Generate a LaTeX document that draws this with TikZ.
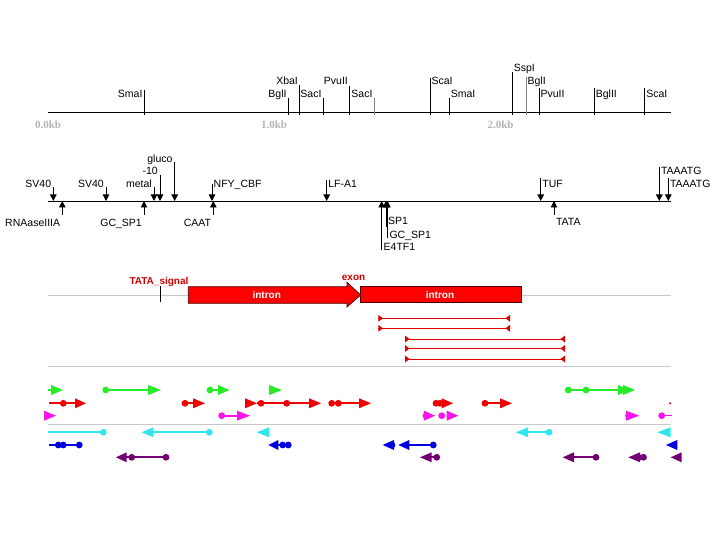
\documentclass[tikz,border=0pt]{standalone}
\usepackage{fontspec}
\setmainfont{Liberation Sans}
\newfontfamily\gbserif{Liberation Serif}
\usetikzlibrary{arrows.meta}
\definecolor{gG}{RGB}{40,235,40}
\definecolor{gR}{RGB}{240,0,0}
\definecolor{gM}{RGB}{250,20,235}
\definecolor{gC}{RGB}{50,230,240}
\definecolor{gB}{RGB}{0,0,220}
\definecolor{gP}{RGB}{115,0,115}
\definecolor{featred}{RGB}{220,0,0}
\definecolor{labred}{RGB}{205,0,0}
\definecolor{boxedge}{RGB}{80,0,0}
\definecolor{trackgray}{RGB}{200,200,200}
\definecolor{scalegray}{RGB}{180,180,180}
\newcommand\gbR[4]{\fill[#1] (#2,#4-5) -- (#3,#4) -- (#2,#4+5) -- cycle;}
\newcommand\gbL[4]{\fill[#1] (#3,#4-5) -- (#2,#4) -- (#3,#4+5) -- cycle;}
\newcommand\gbD[3]{\fill[#1] (#2,#3) circle[radius=3.4pt];}
\newcommand\gbS[4]{\draw[#1,line width=2.3pt] (#2,#4) -- (#3,#4);}
\newcommand\gbFeat[3]{%
  \draw[featred,line width=0.9pt] (#1,#3) -- (#2,#3);
  \fill[featred] (#1,#3-3.5) -- (#1+4.5,#3) -- (#1,#3+3.5) -- cycle;
  \fill[featred] (#2,#3-3.5) -- (#2-4.5,#3) -- (#2,#3+3.5) -- cycle;}
\tikzset{
  lab/.style={font=\fontsize{10.5}{12}\selectfont,inner sep=0pt,text=black},
  scl/.style={font=\gbserif\bfseries\fontsize{11}{12}\selectfont,inner sep=0pt,text=scalegray},
  axisline/.style={black,line width=0.9pt},
  trackline/.style={trackgray,line width=0.9pt},
  pointer/.style={black,line width=0.9pt,-{Triangle[length=6.5pt,width=6.5pt]}},
  redlab/.style={font=\bfseries\fontsize{10}{12}\selectfont,inner sep=0pt,text=labred},
  intronlab/.style={font=\bfseries\fontsize{10}{12}\selectfont,inner sep=0pt,text=white},
}
\begin{document}
\begin{tikzpicture}[x=1pt,y=-1pt]
\useasboundingbox (0,0) rectangle (720,540);
\fill[white] (0,0) rectangle (720,540);

% ---------- restriction map ----------
\coordinate (mapL) at (48,112);
\coordinate (mapR) at (671,112);
\draw[axisline] (mapL) -- (mapR);
\foreach \x/\t/\b/\s/\c [count=\i] in {144.3/90/98/SmaI/black, 288.3/98/98/BglI/black, 299.7/85/85/XbaI/black, 323.3/98/98/SacI/black, 349.7/86/85/PvuII/black, 374.3/98/98/SacI/gray}{
  \draw[\c,line width=1pt] (\x,\t) -- (\x,115);
  \node[lab,anchor=base east] (tl\i) at (\x-1.6,\b) {\s};
}
\foreach \x/\t/\b/\s/\c [count=\i] in {430/78/85/ScaI/black, 449.3/98/98/SmaI/black, 512.3/72/71.7/SspI/black, 526/77/85/BglI/gray, 539/88/97.5/PvuII/black, 594.3/88/97.5/BglII/black, 644.7/88/97.5/ScaI/black}{
  \draw[\c,line width=1pt] (\x,\t) -- (\x,115);
  \node[lab,anchor=base west] (tr\i) at (\x+1.4,\b) {\s};
}
\node[scl] (k0) at (48,125) {0.0kb};
\node[scl] (k1) at (274,125) {1.0kb};
\node[scl] (k2) at (500.5,125) {2.0kb};

% ---------- promoter elements ----------
\coordinate (prL) at (48,201);
\coordinate (prR) at (671,201);
\draw[axisline] (prL) -- (prR);
\foreach \x/\t/\b/\s [count=\i] in {53.3/187.5/188/SV40, 106/187.5/188/SV40, 154/187.5/188/metal, 160/175/175/-10, 174.7/162/162.5/gluco}{
  \coordinate (dl\i) at (\x,201);
  \draw[pointer] (\x,\t) -- (dl\i);
  \node[lab,anchor=base east] (dln\i) at (\x-2,\b) {\s};
}
\foreach \x/\t/\b/\s [count=\i] in {212/184/188/NFY\_CBF, 326.7/180/188/LF-A1, 540.7/178/188/TUF, 659.3/167/175/TAAATG, 668.3/178/188/TAAATG}{
  \coordinate (dr\i) at (\x,201);
  \draw[pointer] (\x,\t) -- (dr\i);
  \node[lab,anchor=base west] (drn\i) at (\x+1.5,\b) {\s};
}
\foreach \x/\t/\b/\s [count=\i] in {62.3/215/226/RNAaseIIIA, 144/215/226/GC\_SP1, 213.3/215/226/CAAT}{
  \coordinate (ul\i) at (\x,201);
  \draw[pointer] (\x,\t) -- (ul\i);
  \node[lab,anchor=base east] (uln\i) at (\x-2,\b) {\s};
}
\foreach \x/\t/\b/\s [count=\i] in {381.7/250/250.5/E4TF1, 386/227/225/SP1, 387.5/238/238/GC\_SP1, 554/215/225.5/TATA}{
  \coordinate (ur\i) at (\x,201);
  \draw[pointer] (\x,\t) -- (ur\i);
  \node[lab,anchor=base west] (urn\i) at (\x+1.8,\b) {\s};
}

% ---------- gene structure ----------
\draw[trackline] (48,295) -- (671,295);
\draw[trackline] (48,366) -- (671,366);
\draw[trackline] (48,424.3) -- (671,424.3);
\draw[black,line width=1.4pt] (160.7,285.7) -- (160.7,302.3);
\node[redlab,anchor=base west] (tatasig) at (129.3,284.5) {TATA\_signal};
\fill[red,draw=boxedge,line width=0.7pt] (188.3,286.7) -- (347,286.7) -- (347,282.3) -- (360.7,295) -- (347,307) -- (347,303.3) -- (188.3,303.3) -- cycle;
\fill[red,draw=boxedge,line width=0.7pt] (360.7,286.7) rectangle (521,302.7);
\node[intronlab] (in1) at (266.7,295) {intron};
\node[intronlab] (in2) at (440,295) {intron};
\node[redlab,anchor=base west] (exon) at (341.7,280) {exon};

\gbFeat{378.3}{510}{318.3}
\gbFeat{378.3}{510}{328.3}
\gbFeat{405}{565}{339}
\gbFeat{405}{565}{348.5}
\gbFeat{405}{565}{359}

% ---------- feature glyph rows ----------
% green
\gbS{gG}{48}{53}{390} \gbR{gG}{51}{63}{390}
\gbD{gG}{105.7}{390} \gbS{gG}{105.7}{150}{390} \gbR{gG}{148}{161}{390}
\gbD{gG}{210}{390} \gbS{gG}{210}{220}{390} \gbR{gG}{218}{229.5}{390}
\gbR{gG}{269}{282}{390}
\gbD{gG}{568.3}{390} \gbD{gG}{586}{390} \gbS{gG}{568}{620}{390} \gbR{gG}{618}{630}{390} \gbR{gG}{623}{635}{390}
% red
\gbS{gR}{49}{76}{403.3} \gbD{gR}{63.3}{403.3} \gbR{gR}{75}{86}{403.3}
\gbD{gR}{185}{403.3} \gbS{gR}{185}{194}{403.3} \gbR{gR}{193}{205}{403.3}
\gbR{gR}{245}{257}{403.3} \gbS{gR}{257}{310}{403.3} \gbD{gR}{261}{403.3} \gbD{gR}{286.7}{403.3} \gbR{gR}{309}{321}{403.3}
\gbD{gR}{331.7}{403.3} \gbD{gR}{338.3}{403.3} \gbS{gR}{332}{361}{403.3} \gbR{gR}{359}{371}{403.3}
\gbD{gR}{436}{403.3} \gbD{gR}{440}{403.3} \gbR{gR}{441.7}{453}{403.3}
\gbD{gR}{485}{403.3} \gbS{gR}{485}{501}{403.3} \gbR{gR}{500}{512}{403.3}
\fill[gR] (670,403.3) circle[radius=1.2pt];
% magenta
\gbR{gM}{44}{56}{415.7}
\gbD{gM}{221.7}{415.7} \gbS{gM}{221.7}{238}{415.7} \gbR{gM}{237}{250}{415.7}
\gbD{gM}{426}{415.7} \gbR{gM}{424}{435}{415.7} \gbD{gM}{441.7}{415.7} \gbR{gM}{446.7}{458.3}{415.7}
\gbD{gM}{628.5}{415.7} \gbR{gM}{626}{639.3}{415.7}
\gbD{gM}{661.7}{415.7} \draw[gM,line width=1.2pt] (661.7,415.7) -- (672,415.7);
% cyan
\gbS{gC}{48.3}{103.3}{432.3} \gbD{gC}{103.3}{432.3}
\gbL{gC}{141.7}{153.3}{432.3} \gbS{gC}{152}{209.3}{432.3} \gbD{gC}{209.3}{432.3}
\gbL{gC}{256.7}{269.3}{432.3} \gbD{gC}{266}{432.3}
\gbL{gC}{516}{528}{432.3} \gbS{gC}{527}{549}{432.3} \gbD{gC}{549}{432.3}
\gbL{gC}{657.3}{670.7}{432.3}
% blue
\gbS{gB}{49}{79.3}{445} \gbD{gB}{58.3}{445} \gbD{gB}{63.3}{445} \gbD{gB}{79.3}{445}
\gbL{gB}{268.3}{278.3}{445} \gbS{gB}{276}{288}{445} \gbD{gB}{282.7}{445} \gbD{gB}{288.3}{445}
\gbL{gB}{382.7}{394}{445} \gbD{gB}{392}{445} \gbL{gB}{398.3}{409.3}{445} \gbS{gB}{408}{433.3}{445} \gbD{gB}{433.3}{445}
\gbL{gB}{666}{677.3}{445}
% purple
\gbL{gP}{116}{126.7}{457.3} \gbS{gP}{126}{166}{457.3} \gbD{gP}{131.7}{457.3} \gbD{gP}{166}{457.3}
\gbL{gP}{420}{431.7}{457.3} \gbS{gP}{430}{437}{457.3} \gbD{gP}{436.7}{457.3}
\gbL{gP}{562.7}{574}{457.3} \gbS{gP}{573}{596}{457.3} \gbD{gP}{596}{457.3}
\gbL{gP}{628.3}{640}{457.3} \gbD{gP}{639}{457.3} \gbD{gP}{643.5}{457.3}
\gbL{gP}{670.7}{681.7}{457.3}
\end{tikzpicture}
\end{document}
